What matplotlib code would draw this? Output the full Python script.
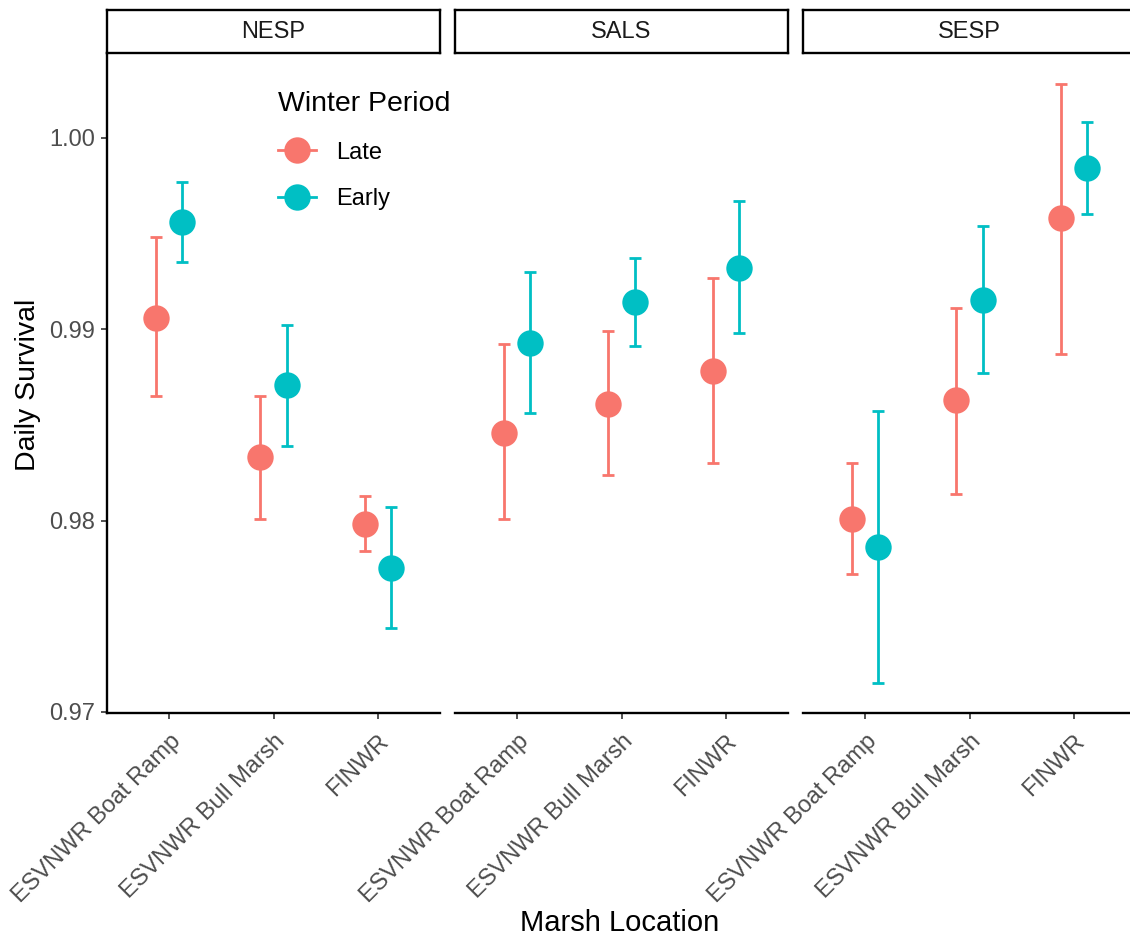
import numpy as np
import matplotlib.pyplot as plt
from matplotlib.lines import Line2D

plt.rcParams['font.family'] = ['Liberation Sans', 'DejaVu Sans']

species = ["NESP", "SALS", "SESP"]
sites = ["ESVNWR Boat Ramp", "ESVNWR Bull Marsh", "FINWR"]
periods = ["Late", "Early"]
colors = {"Late": "#F8766D", "Early": "#00BFC4"}

# estimates and 95% limits, rows = species, cols = sites
late_est = [[0.9906, 0.9833, 0.9798],
            [0.9846, 0.9861, 0.9878],
            [0.9801, 0.9863, 0.9958]]
late_lo = [[0.9865, 0.9801, 0.9784],
           [0.9801, 0.9824, 0.9830],
           [0.9772, 0.9814, 0.9887]]
late_hi = [[0.9948, 0.9865, 0.9813],
           [0.9892, 0.9899, 0.9927],
           [0.9830, 0.9911, 1.0028]]
early_est = [[0.9956, 0.9871, 0.9775],
             [0.9893, 0.9914, 0.9932],
             [0.9786, 0.9915, 0.9984]]
early_lo = [[0.9935, 0.9839, 0.9744],
            [0.9856, 0.9891, 0.9898],
            [0.9715, 0.9877, 0.9960]]
early_hi = [[0.9977, 0.9902, 0.9807],
            [0.9930, 0.9937, 0.9967],
            [0.9857, 0.9954, 1.0008]]

data = {"Late": (late_est, late_lo, late_hi),
        "Early": (early_est, early_lo, early_hi)}
offsets = {"Late": -0.125, "Early": 0.125}

W, H = 1130, 939
fig = plt.figure(figsize=(W / 100, H / 100), dpi=100)

panel_left = [107, 455, 803]
panel_w = 333
top, bottom = 53, 713.3
strip_top = 10

ylo, yhi = 0.96993, 1.00443
x = np.arange(1, 4)

for i, sp in enumerate(species):
    l = panel_left[i] / W
    ax = fig.add_axes([l, (H - bottom) / H, panel_w / W, (bottom - top) / H])
    ax.patch.set_visible(False)
    for p in periods:
        est, lo, hi = data[p]
        e = np.array(est[i])
        yerr = [e - np.array(lo[i]), np.array(hi[i]) - e]
        ax.errorbar(x + offsets[p], e, yerr=yerr, fmt='none', ecolor=colors[p],
                    elinewidth=2.0, capsize=4, capthick=2.0, zorder=2)
        ax.plot(x + offsets[p], e, 'o', color=colors[p], ms=19, mec='none', zorder=3)
    ax.set_xlim(0.4, 3.6)
    ax.set_ylim(ylo, yhi)
    ax.set_xticks(x)
    ax.set_xticklabels(sites, rotation=45, ha='right', va='top',
                       rotation_mode='anchor', fontsize=17, color='#4D4D4D')
    ax.tick_params(axis='x', length=4.5, width=1.2, color='#333333', pad=8)
    for s in ['top', 'right']:
        ax.spines[s].set_visible(False)
    ax.spines['bottom'].set_linewidth(1.7)
    if i == 0:
        ax.spines['left'].set_linewidth(1.7)
        ax.set_yticks([0.97, 0.98, 0.99, 1.00])
        ax.set_yticklabels(["0.97", "0.98", "0.99", "1.00"], fontsize=17, color='#4D4D4D')
        ax.tick_params(axis='y', length=4.5, width=1.2, color='#333333', pad=4)
    else:
        ax.spines['left'].set_visible(False)
        ax.set_yticks([])

    sax = fig.add_axes([l, (H - top) / H, panel_w / W, (top - strip_top) / H])
    sax.set_xticks([])
    sax.set_yticks([])
    for s in sax.spines.values():
        s.set_linewidth(1.7)
    sax.text(0.5, 0.5, sp, ha='center', va='center', fontsize=17, color='#1A1A1A',
             transform=sax.transAxes)

handles = [Line2D([], [], color=colors[p], marker='o', ms=19, mec='none', lw=2)
           for p in periods]
leg = fig.legend(handles, periods, title="Winter Period", frameon=False,
                 loc='upper left', bbox_to_anchor=(266 / W, 1 - 79 / H),
                 borderpad=0, fontsize=17, title_fontsize=20.5, handlelength=1.6,
                 labelspacing=1.05, handletextpad=0.85)
leg._legend_box.align = "left"

fig.text(28 / W, 1 - 385 / H, "Daily Survival", rotation=90, ha='center', va='center',
         fontsize=20.5)
fig.text(620 / W, 1 - 923 / H, "Marsh Location", ha='center', va='center', fontsize=21)

fig.savefig("out.png", dpi=100)
